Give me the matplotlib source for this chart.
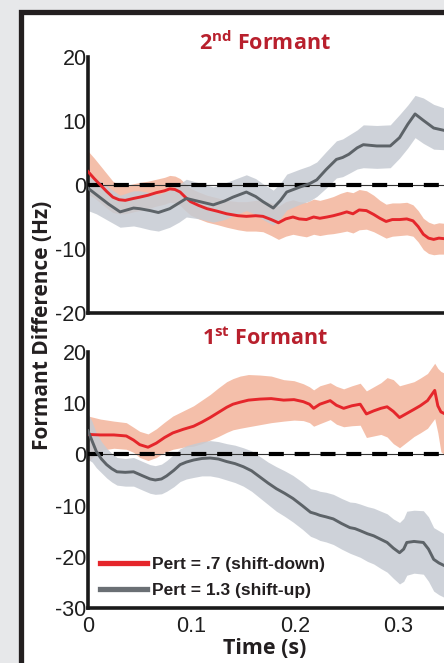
import numpy as np
import matplotlib
matplotlib.use("Agg")
import matplotlib.pyplot as plt
from matplotlib.patches import Rectangle
from matplotlib.lines import Line2D

# ---------------- data ----------------
# 2nd formant, shift-up (gray)
f2_up_t = [0, .008, .02, .031, .044, .05, .060, .068, .079, .088, .095, .108, .121, .132, .140,
           .153, .162, .169, .179, .186, .192, .205, .214, .221, .230, .240, .246, .252, .260,
           .266, .279, .292, .301, .309, .316, .324, .334, .345]
f2_up = [-0.5, -1.5, -3.0, -4.2, -3.6, -3.7, -4.0, -4.3, -3.7, -2.8, -2.1, -2.6, -3.1, -2.5, -1.9,
         -1.1, -1.8, -2.6, -3.6, -2.4, -1.1, -0.3, 0.2, 0.8, 2.4, 4.0, 4.3, 4.8, 5.8,
         6.3, 6.1, 6.1, 7.4, 9.5, 11.1, 10.1, 8.9, 8.5]
f2_up_lo = [-4.0, -4.5, -5.6, -6.6, -6.4, -6.6, -7.0, -7.2, -6.6, -5.8, -5.0, -5.3, -5.8, -5.4, -4.8,
            -4.0, -4.6, -5.4, -6.3, -5.2, -3.9, -3.0, -2.5, -1.8, -0.5, 1.1, 1.3, 1.8, 2.5,
            2.7, 2.6, 2.7, 4.2, 5.8, 7.4, 6.5, 5.6, 5.5]
f2_up_hi = [1.2, 1.0, -0.4, -1.6, -0.9, -0.9, -1.2, -1.5, -0.8, 0.1, 0.9, 0.3, -0.3, 0.3, 0.8,
            1.6, 1.0, 0.2, -0.8, 0.3, 1.7, 2.5, 3.0, 3.6, 5.2, 6.9, 7.2, 7.8, 8.6,
            9.4, 9.3, 9.4, 11.0, 12.5, 14.0, 13.6, 12.6, 12.0]

# 2nd formant, shift-down (red)
f2_dn_t = [0, .006, .012, .018, .024, .030, .036, .044, .050, .058, .066, .074, .079, .084, .089,
           .094, .099, .107, .115, .125, .134, .145, .153, .162, .169, .177, .184, .191, .198,
           .204, .211, .218, .224, .231, .237, .244, .250, .256, .262, .269, .276, .282, .288,
           .294, .301, .308, .314, .319, .324, .329, .334, .339, .345]
f2_dn = [2.1, 1.0, 0.0, -1.0, -1.9, -2.3, -2.4, -2.1, -1.9, -1.6, -1.2, -0.9, -0.6, -0.7, -1.1,
         -1.9, -2.6, -3.2, -3.7, -4.1, -4.5, -4.8, -4.9, -4.8, -4.9, -5.4, -5.9, -5.3, -5.0,
         -5.3, -5.4, -5.0, -5.2, -5.0, -4.8, -4.5, -4.2, -4.5, -3.9, -4.0, -4.6, -5.2, -5.7,
         -5.4, -5.4, -5.3, -5.6, -6.5, -7.7, -8.3, -8.5, -8.3, -8.4]
f2_dn_lo = [-1.5, -2.0, -2.8, -3.6, -4.3, -4.5, -4.5, -4.2, -4.0, -3.7, -3.3, -3.0, -2.7, -2.8, -3.2,
            -4.0, -4.7, -5.3, -5.8, -6.2, -6.6, -7.0, -7.2, -7.2, -7.3, -7.9, -8.5, -8.0, -7.7,
            -7.9, -8.1, -7.7, -7.9, -7.7, -7.6, -7.4, -7.2, -7.5, -7.0, -6.9, -7.3, -7.8, -8.3,
            -8.0, -7.9, -7.8, -8.0, -8.9, -10.1, -10.7, -10.9, -10.8, -10.8]
f2_dn_hi = [5.3, 4.2, 3.0, 1.8, 0.6, 0.0, -0.1, 0.2, 0.4, 0.6, 0.9, 1.2, 1.5, 1.4, 1.0,
            0.2, -0.5, -1.1, -1.6, -2.0, -2.4, -2.6, -2.6, -2.4, -2.4, -2.8, -3.3, -2.6, -2.3,
            -2.6, -2.7, -2.2, -2.4, -2.1, -1.8, -1.3, -1.0, -1.2, -0.7, -0.9, -1.6, -2.4, -3.0,
            -2.8, -2.8, -2.7, -3.1, -4.0, -5.2, -5.8, -6.1, -5.9, -6.0]

# 1st formant, shift-down (red)
f1_dn_t = [0, .012, .025, .037, .044, .050, .058, .066, .074, .082, .092, .102, .110, .118, .126,
           .134, .140, .147, .155, .166, .177, .189, .199, .208, .214, .218, .224, .234, .240,
           .247, .255, .263, .269, .276, .283, .289, .295, .301, .308, .315, .321, .328, .335,
           .338, .341, .345]
f1_dn = [3.9, 3.8, 3.8, 3.6, 2.8, 1.9, 1.4, 2.2, 3.3, 4.2, 4.9, 5.5, 6.3, 7.2, 8.2,
         9.2, 9.8, 10.2, 10.6, 10.8, 10.9, 10.6, 10.7, 10.3, 9.8, 9.0, 9.8, 10.5, 9.6,
         9.0, 9.5, 9.8, 7.9, 8.5, 9.0, 9.3, 8.4, 7.2, 8.0, 8.8, 9.5, 10.5, 12.5,
         9.5, 8.3, 7.9]
f1_dn_lo = [-1.4, 0.8, 1.2, 1.0, 0.4, -0.6, -1.2, -0.6, 0.4, 1.0, 1.4, 1.6, 2.1, 2.8, 3.5,
            4.3, 4.8, 5.1, 5.4, 5.8, 6.2, 6.5, 6.7, 6.6, 6.2, 5.5, 6.0, 6.8, 5.9,
            5.4, 5.6, 5.7, 3.3, 3.6, 3.9, 3.4, 2.1, 1.3, 2.4, 3.5, 4.2, 5.1, 7.0,
            4.2, 0.5, -0.2]
f1_dn_hi = [7.5, 6.9, 6.5, 6.2, 5.3, 4.5, 4.0, 5.0, 6.3, 7.5, 8.5, 9.5, 10.6, 11.7, 13.0,
            14.2, 14.8, 15.3, 15.6, 15.5, 15.3, 14.6, 14.4, 13.8, 13.2, 12.6, 13.4, 14.0, 13.3,
            12.8, 13.4, 13.9, 12.4, 13.2, 14.0, 15.0, 14.6, 13.4, 13.8, 14.2, 14.9, 15.8, 17.8,
            16.8, 16.2, 15.8]

# 1st formant, shift-up (gray)
f1_up_t = [0, .004, .008, .013, .018, .023, .028, .036, .044, .053, .060, .065, .071, .076, .083,
           .089, .095, .102, .110, .118, .126, .134, .142, .150, .158, .166, .174, .182, .190,
           .198, .207, .215, .220, .224, .230, .237, .245, .253, .258, .263, .270, .276, .283,
           .289, .295, .301, .305, .308, .315, .324, .329, .334, .339, .345]
f1_up = [4.6, 2.6, 0.6, -0.9, -2.0, -2.8, -3.4, -3.5, -3.4, -4.2, -4.8, -5.0, -4.8, -4.2, -3.1,
         -2.0, -1.5, -1.1, -0.8, -0.7, -0.9, -1.4, -1.8, -2.4, -3.2, -4.4, -5.6, -6.7, -7.6,
         -8.6, -10.0, -11.3, -11.6, -11.9, -12.2, -12.6, -13.5, -14.3, -14.5, -14.9, -15.5, -15.9, -16.6,
         -17.2, -18.3, -19.2, -18.5, -17.2, -17.0, -17.2, -18.5, -20.5, -21.2, -21.8]
f1_up_lo = [-1.0, -1.5, -2.6, -3.6, -4.6, -5.4, -6.0, -6.2, -6.2, -7.0, -7.6, -7.8, -7.7, -7.2, -6.3,
            -5.3, -4.8, -4.5, -4.2, -4.2, -4.5, -5.0, -5.5, -6.2, -7.2, -8.5, -9.8, -11.1, -12.1,
            -13.2, -14.6, -16.0, -16.4, -16.8, -17.1, -17.6, -18.5, -19.3, -19.7, -20.1, -20.9, -21.4, -22.3,
            -23.0, -24.2, -25.3, -24.8, -23.6, -23.2, -23.4, -24.8, -26.7, -27.4, -28.0]
f1_up_hi = [8.0, 6.4, 4.2, 2.5, 1.2, 0.2, -0.6, -0.8, -0.6, -1.4, -2.0, -2.2, -1.9, -1.2, 0.0,
            1.1, 1.7, 2.1, 2.5, 2.7, 2.5, 2.1, 1.8, 1.3, 0.7, -0.4, -1.5, -2.4, -3.2,
            -4.1, -5.4, -6.7, -6.9, -7.2, -7.4, -7.8, -8.6, -9.3, -9.4, -9.7, -10.2, -10.5, -11.1,
            -11.6, -12.6, -13.3, -12.5, -11.1, -10.9, -11.0, -12.2, -14.3, -14.9, -15.6]

x_ticks = [0, 0.1, 0.2, 0.3]
x_tick_labels = ["0", "0.1", "0.2", "0.3"]
f2_yticks = [-20, -10, 0, 10, 20]
f1_yticks = [-30, -20, -10, 0, 10, 20]
legend_labels = ["Pert = .7 (shift-down)", "Pert = 1.3 (shift-up)"]

# ---------------- style ----------------
RED = "#e5262b"
RED_BAND = "#f3b49b"
GRAY = "#5d6368"
GRAY_BAND = "#c6cbd3"
TITLE_RED = "#b8202d"
INK = "#231f20"

plt.rcParams["mathtext.fontset"] = "custom"
plt.rcParams["mathtext.rm"] = "Open Sans:bold"
plt.rcParams["mathtext.default"] = "rm"

W, H = 444, 663
fig = plt.figure(figsize=(W / 100, H / 100), dpi=100)
fig.patch.set_facecolor("#e7e8ea")

# framed white panel (cropped on right and bottom)
fig.patches.append(Rectangle((20.5 / W, -0.2), 2.0, (H - 11.5) / H + 0.2,
                             transform=fig.transFigure, facecolor="white",
                             edgecolor=INK, linewidth=3.8, zorder=-10))

left = 88 / W
width = 1 - left
ax2 = fig.add_axes([left, (H - 313) / H, width, 256 / H])
ax1 = fig.add_axes([left, (H - 608) / H, width, 256 / H])

tickfont = dict(family="Liberation Sans", size=15.5)


def style(ax, ylim, yticks):
    ax.set_facecolor("none")
    ax.set_xlim(0, 356 / 1035)
    ax.set_ylim(*ylim)
    for s in ("top", "right"):
        ax.spines[s].set_visible(False)
    for s in ("left", "bottom"):
        ax.spines[s].set_linewidth(2.6)
        ax.spines[s].set_color("#1a1a1a")
    ax.set_yticks(yticks)
    ax.set_yticklabels([str(v) for v in yticks], fontdict=tickfont, color="#1e1e1e")
    ax.tick_params(length=0, pad=1)
    ax.axhline(0, color="#333333", lw=0.8, zorder=4)
    ax.axhline(0, color="black", lw=3.0, dashes=(3.6, 2.6), zorder=4)


def draw(ax, t, m, lo, hi, line_c, band_c, z):
    ax.fill_between(t, lo, hi, color=band_c, lw=0, alpha=0.85, zorder=z)
    ax.plot(t, m, color=line_c, lw=2.1, zorder=5 + z)


style(ax2, (-20, 20), f2_yticks)
draw(ax2, f2_dn_t, f2_dn, f2_dn_lo, f2_dn_hi, RED, RED_BAND, 1)
draw(ax2, f2_up_t, f2_up, f2_up_lo, f2_up_hi, GRAY, GRAY_BAND, 2)
ax2.set_xticks([])

style(ax1, (-30, 20), f1_yticks)
draw(ax1, f1_dn_t, f1_dn, f1_dn_lo, f1_dn_hi, RED, RED_BAND, 1)
draw(ax1, f1_up_t, f1_up, f1_up_lo, f1_up_hi, GRAY, GRAY_BAND, 2)
ax1.set_xticks(x_ticks)
ax1.set_xticklabels(x_tick_labels, fontdict=tickfont, color="#1e1e1e")
ax1.tick_params(axis="x", pad=6)

# titles
fig.text(265 / W, 1 - 50 / H, r"2$^{nd}$ Formant", ha="center", va="baseline",
         fontsize=15.5, color=TITLE_RED, family="Open Sans", fontweight="bold")
fig.text(265 / W, 1 - 345 / H, r"1$^{st}$ Formant", ha="center", va="baseline",
         fontsize=15.5, color=TITLE_RED, family="Open Sans", fontweight="bold")

fig.text(42 / W, 1 - 325 / H, "Formant Difference (Hz)", rotation=90, ha="center",
         va="center", fontsize=15, color=INK, family="Open Sans", fontweight="bold")
fig.text(265 / W, 1 - 648 / H, "Time (s)", ha="center", va="center",
         fontsize=15.5, color=INK, family="Open Sans", fontweight="bold")

handles = [Line2D([], [], color=RED, lw=3.8), Line2D([], [], color="#6a6f74", lw=3.8)]
leg = ax1.legend(handles, legend_labels, loc="lower left", bbox_to_anchor=(0.034, 0.038),
                 frameon=False, handlelength=2.7, handletextpad=0.3, labelspacing=0.62,
                 borderpad=0, borderaxespad=0,
                 prop=dict(family="Liberation Sans", weight="bold", size=12.5))
for txt in leg.get_texts():
    txt.set_color(INK)

fig.savefig("out.png", dpi=100, facecolor=fig.get_facecolor())
